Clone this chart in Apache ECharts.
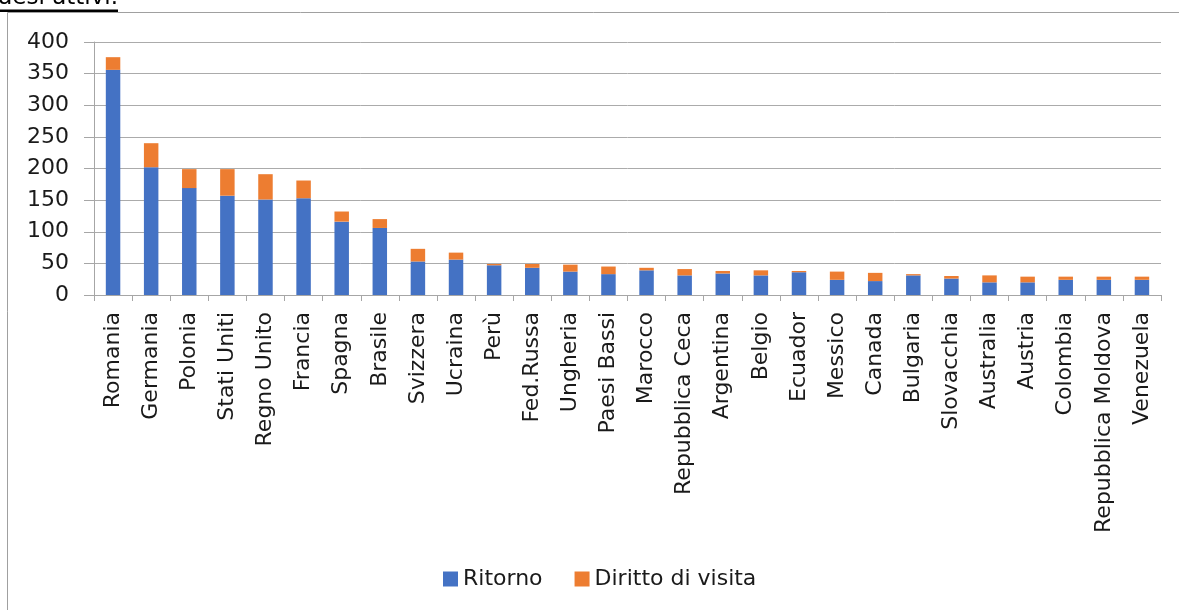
<!DOCTYPE html>
<html>
<head>
<meta charset="utf-8">
<script src="https://cdn.jsdelivr.net/npm/echarts@6/dist/echarts.min.js"></script>
<style>
html,body{margin:0;padding:0;background:#fff;}
#chart{width:1179px;height:610px;}
</style>
</head>
<body>
<div id="chart"></div>
<script>
const categories = ['Romania','Germania','Polonia','Stati Uniti','Regno Unito','Francia','Spagna','Brasile','Svizzera','Ucraina','Perù','Fed.Russa','Ungheria','Paesi Bassi','Marocco','Repubblica Ceca','Argentina','Belgio','Ecuador','Messico','Canada','Bulgaria','Slovacchia','Australia','Austria','Colombia','Repubblica Moldova','Venezuela'];
const ritorno = [356,202,169,157,151,153,116,106,53,56,47,43,37,33,39,31,34,31,36,24,22,31,26,20,20,24,24,24];
const diritto = [20,38,30,42,40,28,16,14,20,11,2,6,11,12,4,10,4,8,2,13,13,2,4,11,9,5,5,5];
const seriesNames = ['Ritorno','Diritto di visita'];
const yTicks = {min:0, max:400, interval:50};

const FONT = 'DejaVu Sans';
const TXT = '#1a1a1a';
const chart = echarts.init(document.getElementById('chart'), null, {renderer:'canvas'});
chart.setOption({
  animation:false,
  backgroundColor:'#fff',
  textStyle:{fontFamily:FONT},
  graphic:[
    {type:'line', shape:{x1:7.5,y1:12.5,x2:1179,y2:12.5}, style:{stroke:'#a0a0a0',lineWidth:1}},
    {type:'line', shape:{x1:7.5,y1:12.5,x2:7.5,y2:610}, style:{stroke:'#a0a0a0',lineWidth:1}},
    {type:'text', right:1179-118, top:-13, style:{text:'Paesi attivi.', font:'23px "DejaVu Sans"', fill:'#000'}},
    {type:'rect', shape:{x:0,y:9.5,width:118,height:2.5}, style:{fill:'#000'}}
  ],
  grid:{left:94, right:18, top:42, bottom:315, containLabel:false},
  legend:{
    data:seriesNames, left:438, top:563, itemWidth:15, itemHeight:15, itemGap:32,
    icon:'rect',
    textStyle:{fontFamily:FONT, fontSize:22, color:TXT}
  },
  xAxis:{
    type:'category', data:categories,
    axisLine:{lineStyle:{color:'#a6a6a6',width:1}},
    axisTick:{show:true, interval:0, length:6, lineStyle:{color:'#a6a6a6'}},
    axisLabel:{interval:0, rotate:90, margin:17, fontFamily:FONT, fontSize:22, color:TXT}
  },
  yAxis:{
    type:'value', min:yTicks.min, max:yTicks.max, interval:yTicks.interval,
    axisLine:{show:true, lineStyle:{color:'#a6a6a6'}},
    axisTick:{show:true, length:10, lineStyle:{color:'#a6a6a6'}},
    splitLine:{lineStyle:{color:'#ababab',width:1}},
    axisLabel:{margin:25, fontFamily:FONT, fontSize:22, color:TXT}
  },
  series:[
    {name:seriesNames[0], type:'bar', stack:'t', data:ritorno, barWidth:'38%', itemStyle:{color:'#4472C4'}},
    {name:seriesNames[1], type:'bar', stack:'t', data:diritto, barWidth:'38%', itemStyle:{color:'#ED7D31'}}
  ]
});
</script>
</body>
</html>
